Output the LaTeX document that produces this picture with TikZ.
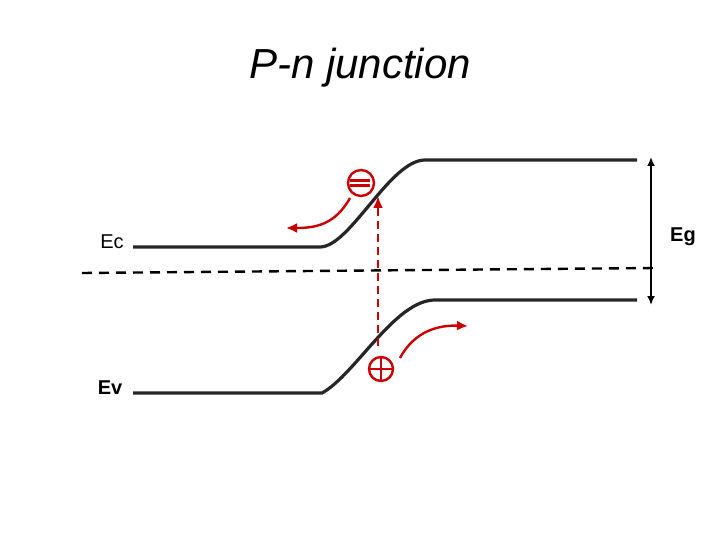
\documentclass[tikz,border=0pt]{standalone}
\usepackage{fontspec}
\setmainfont{Liberation Sans}
\usetikzlibrary{arrows.meta}
\begin{document}
\begin{tikzpicture}[x=1pt,y=-1pt,
  band/.style={line width=3.2pt,black!85},
  rd/.style={red!80!black,line width=2.4pt},
  lbl/.style={font=\fontsize{20}{24}\selectfont}]
\useasboundingbox (0,0) rectangle (720,540);
\node[font=\fontsize{42}{48}\selectfont\itshape] (title) at (360,68) {P-n junction};
\coordinate (c1) at (133,247); \coordinate (c2) at (320,247);
\coordinate (c3) at (425,160); \coordinate (c4) at (637,160);
\draw[band] (c1) -- (c2) .. controls (350,247) and (390,160) .. (c3) -- (c4);
\coordinate (v1) at (133,393); \coordinate (v2) at (322,393);
\coordinate (v3) at (435,300); \coordinate (v4) at (637,300);
\draw[band] (v1) -- (v2) .. controls (355,375) and (395,300) .. (v3) -- (v4);
\coordinate (f1) at (82,273); \coordinate (f2) at (655,268);
\draw[line width=2.4pt,dash pattern=on 10pt off 7pt] (f1) -- (f2);
\coordinate (g1) at (651,157); \coordinate (g2) at (651,305);
\draw[line width=2pt,{Latex[length=9pt,width=8pt]}-{Latex[length=9pt,width=8pt]}] (g1) -- (g2);
\node[lbl] (ec) at (112,242) {Ec};
\node[lbl,font=\fontsize{20}{24}\selectfont\bfseries] (ev) at (110,388) {Ev};
\node[lbl,font=\fontsize{20}{24}\selectfont\bfseries] (eg) at (683,237) {Eg};
\node[rd,draw,circle,minimum size=26pt,inner sep=0pt] (m) at (361,183) {};
\draw[rd] (m.west)++(3,-2.5) -- ++(20,0);
\draw[rd] (m.west)++(3,2.5) -- ++(20,0);
\node[rd,draw,circle,minimum size=24pt,inner sep=0pt] (p) at (381,369) {};
\draw[rd] (p.west) -- (p.east) (p.north) -- (p.south);
\coordinate (a1) at (378,346); \coordinate (a2) at (378,196);
\draw[rd,dash pattern=on 8pt off 5pt,-{Latex[length=12pt,width=10pt]}] (a1) -- (a2);
\coordinate (e1) at (350,198); \coordinate (e2) at (286,228);
\draw[rd,-{Latex[length=11pt,width=10pt]}] (e1) .. controls (335,225) and (315,228) .. (e2);
\coordinate (h1) at (400,358); \coordinate (h2) at (468,326);
\draw[rd,-{Latex[length=11pt,width=10pt]}] (h1) .. controls (415,330) and (440,325) .. (h2);
\end{tikzpicture}
\end{document}
